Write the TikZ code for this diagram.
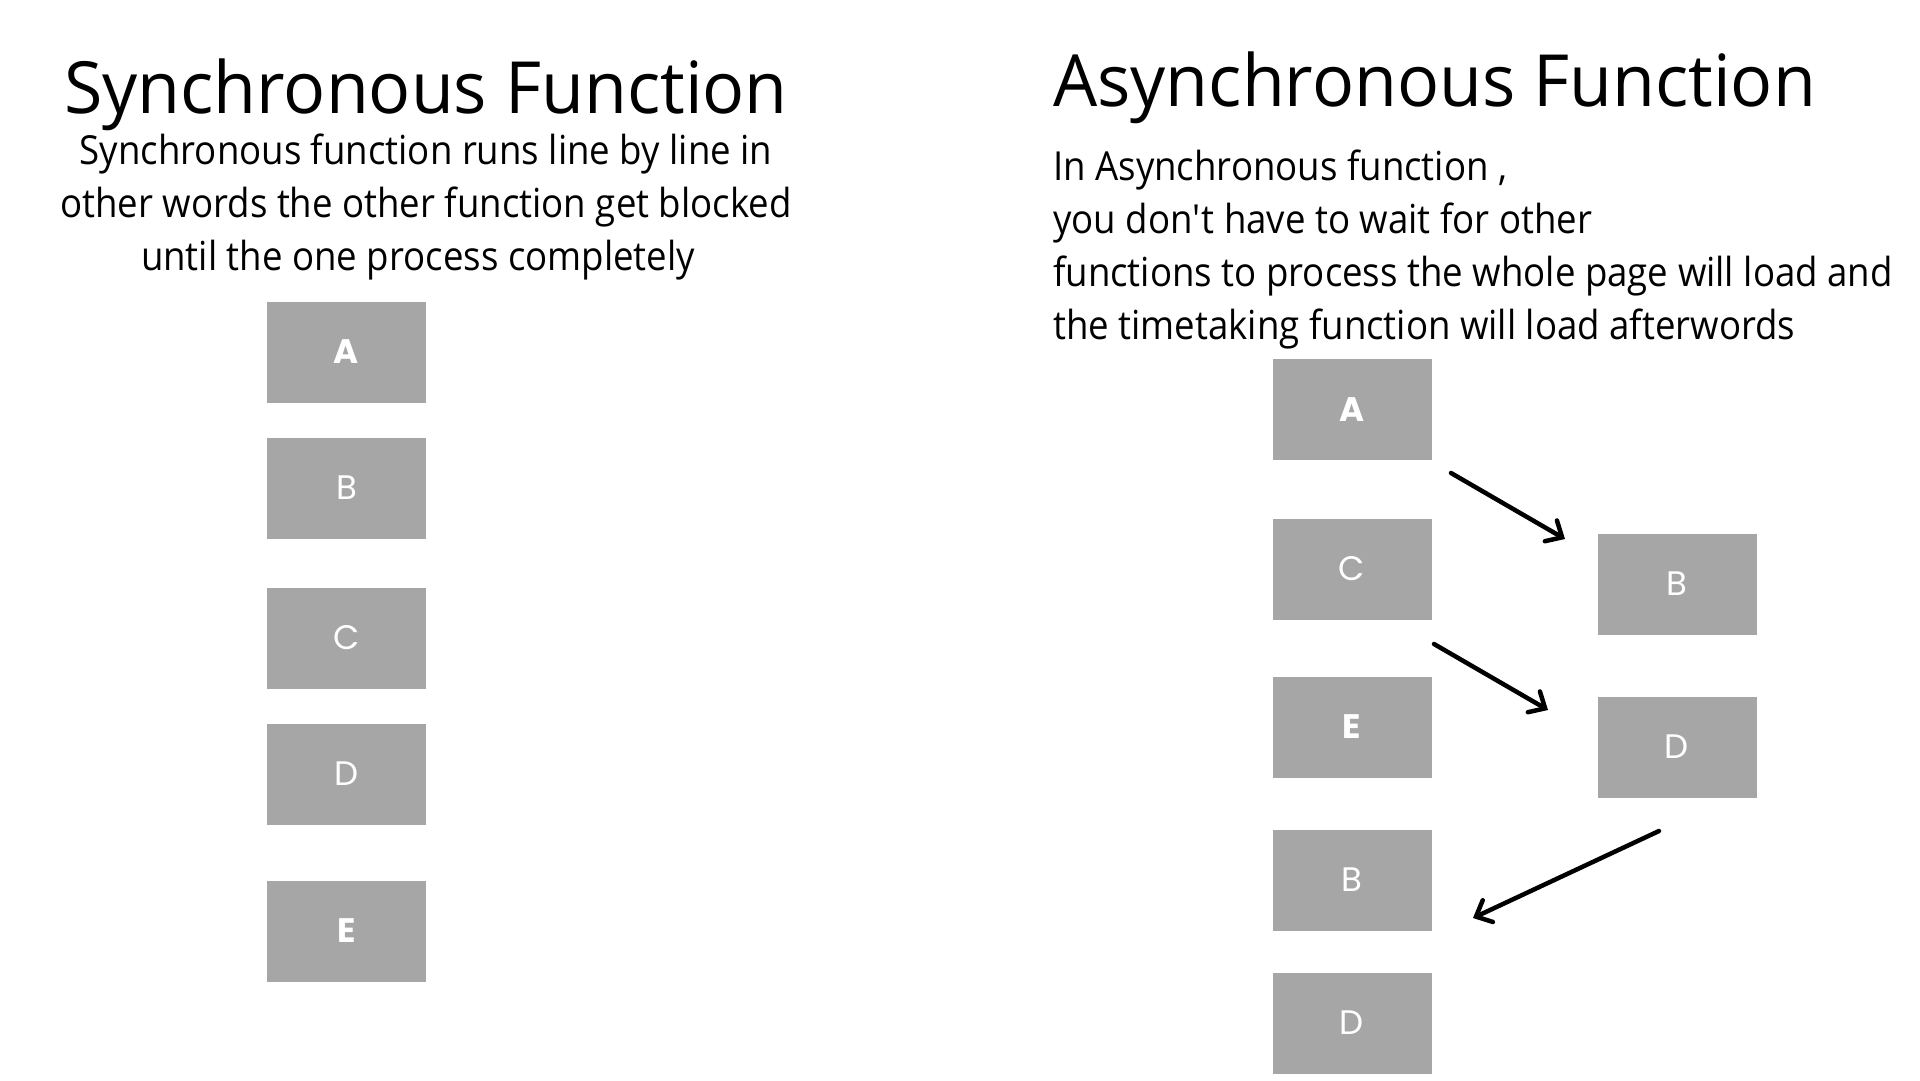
\documentclass[tikz,border=0pt]{standalone}
\usepackage{fontspec}
\setmainfont{Open Sans}
\newfontfamily\parafont{Open Sans}[FakeStretch=0.915]
\newfontfamily\titlefont{Open Sans}[FakeStretch=0.97]
\newfontfamily\lblfont{Poppins}
\usetikzlibrary{arrows.meta}
\definecolor{boxgray}{HTML}{A6A6A6}
\tikzset{
  fnbox/.style={fill=boxgray, minimum width=159pt, minimum height=101pt, inner sep=0pt,
    text=white, font=\lblfont\fontsize{34}{34}\selectfont},
  fnboxbold/.style={fnbox, font=\lblfont\bfseries\fontsize{34}{34}\selectfont},
  titletext/.style={font=\titlefont\fontsize{72}{86}\selectfont, inner sep=0pt, anchor=base},
  paratext/.style={font=\parafont\fontsize{40}{53}\selectfont, inner sep=0pt, anchor=base},
  flow/.style={line width=4.5pt, line cap=round,
    -{Straight Barb[length=13pt, width=24pt, line width=4.5pt, line cap=round]}}
}
\begin{document}
\begin{tikzpicture}[x=1pt,y=-1pt]
\useasboundingbox (0,0) rectangle (1920,1080);
\fill[white] (0,0) rectangle (1920,1080);

% ---- left: synchronous ----
\node[titletext] (stitle) at (426,113) {Synchronous Function};
\node[paratext] (sl1) at (426,164) {Synchronous function runs line by line in};
\node[paratext] (sl2) at (426,217) {other words the other function get blocked};
\node[paratext] (sl3) at (418,270) {until the one process completely};

\node[fnboxbold] (sA) at (346.5,352) {A};
\node[fnbox]     (sB) at (346.5,488) {B};
\node[fnbox]     (sC) at (346.5,638) {C};
\node[fnbox]     (sD) at (346.5,774) {D};
\node[fnboxbold] (sE) at (346.5,931) {E};

% ---- right: asynchronous ----
\node[titletext, anchor=base west] (atitle) at (1053,106) {Asynchronous Function};
\node[paratext, anchor=base west] (al1) at (1053,180) {In Asynchronous function ,};
\node[paratext, anchor=base west] (al2) at (1053,233) {you don\textquotesingle t have to wait for other};
\node[paratext, anchor=base west] (al3) at (1053,286) {functions to process the whole page will load and};
\node[paratext, anchor=base west] (al4) at (1053,339) {the timetaking function will load afterwords};

\node[fnboxbold] (aA)  at (1352,409.5) {A};
\node[fnbox]     (aC)  at (1352,569) {C};
\node[fnboxbold] (aE)  at (1352,727) {E};
\node[fnbox]     (aB2) at (1352,880) {B};
\node[fnbox]     (aD2) at (1352,1023) {D};

\node[fnbox] (aB) at (1677,584) {B};
\node[fnbox] (aD) at (1677,747) {D};

\coordinate (f1s) at (1451,473);
\coordinate (f1e) at (1565,539);
\coordinate (f2s) at (1434,644);
\coordinate (f2e) at (1548,710);
\coordinate (f3s) at (1659,831);
\coordinate (f3e) at (1473,918);

\draw[flow] (f1s) -- (f1e);
\draw[flow] (f2s) -- (f2e);
\draw[flow] (f3s) -- (f3e);
\end{tikzpicture}
\end{document}
